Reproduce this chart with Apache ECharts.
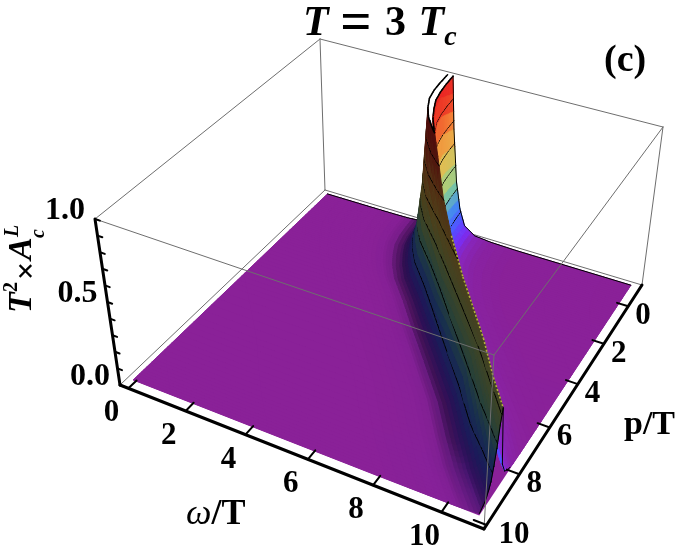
<!DOCTYPE html>
<html><head><meta charset="utf-8">
<style>html,body{margin:0;padding:0;background:#fff}#c{width:678px;height:551px}</style>
<script src="https://cdn.jsdelivr.net/npm/echarts@6/dist/echarts.min.js"></script>
</head><body><div id="c"></div>
<script>
// ---- values ----
var omegaTicks = [0, 2, 4, 6, 8, 10];
var pTicks = [0, 2, 4, 6, 8, 10];
var zTickLabels = ['0.0', '0.5', '1.0'];
var zMinorTicks = [0, .1, .2, .3, .4, .5, .6, .7, .8, .9, 1];
// surface rows: momentum of each row, ridge position on the frequency axis for that row
var pRows = [-1.03, -.5, 0, .5, 1, 1.5, 2.1, 3, 3.84, 4.86, 6.59, 7.76, 8.67, 9.3, 9.8];
var ridgeOmega = [4.47, 4.5, 4.55, 4.65, 4.85, 5.1, 5.5, 6.3, 7.0, 7.88, 9.35, 10.2, 10.9, 11.45, 11.9];
// columns: frequency distance from the ridge
var ridgeOffsets = [-14, -4, -3, -2.2, -1.7, -1.4, -1, -.7, -.45, -.25, -.1, 0, .07, .16, .31, .47, .66, 1.04, 1.6, 2.5, 7];
// T^2 x A values, one row per pRows entry (values above 1 are clipped by the plot range)
var heights = [
 [0,0,0,0,.001,.002,.008,.05,.2,.52,1.06,1.25,1.0,.66,.33,.16,.06,.015,.005,.001,0],
 [0,0,0,0,.001,.002,.008,.05,.2,.54,1.08,1.3,1.04,.69,.34,.17,.065,.016,.005,.001,0],
 [0,0,0,0,.001,.002,.008,.05,.2,.54,1.1,1.35,1.08,.72,.35,.18,.07,.016,.005,.001,0],
 [0,0,0,0,.001,.002,.008,.05,.2,.54,1.1,1.35,1.08,.72,.35,.18,.07,.016,.005,.001,0],
 [0,0,0,0,.001,.002,.008,.05,.2,.52,1.06,1.3,1.04,.69,.34,.17,.065,.016,.005,.001,0],
 [0,0,0,0,.001,.002,.008,.05,.2,.48,.96,1.2,.96,.64,.31,.16,.06,.014,.005,.001,0],
 [0,0,0,0,.001,.002,.008,.055,.2,.44,.8,1.02,.82,.54,.27,.13,.05,.012,.004,.001,0],
 [0,0,0,0,.001,.002,.008,.06,.2,.38,.6,.72,.58,.38,.19,.09,.036,.009,.003,.001,0],
 [0,0,0,0,.001,.003,.01,.07,.2,.35,.52,.62,.5,.33,.16,.08,.03,.008,.003,.001,0],
 [0,0,0,.001,.002,.004,.016,.085,.24,.38,.48,.54,.43,.29,.14,.07,.027,.006,.002,.001,0],
 [0,0,0,.001,.002,.005,.02,.1,.27,.39,.45,.48,.3,.16,.07,.03,.012,.003,.001,0,0],
 [0,0,0,.001,.002,.005,.022,.09,.2,.33,.42,.46,.2,.08,.03,.015,.006,.002,.001,0,0],
 [0,0,.001,.002,.003,.007,.02,.05,.12,.25,.4,.46,.2,.08,.03,.015,.006,.002,.001,0,0],
 [0,0,.001,.002,.003,.006,.016,.035,.09,.2,.34,.44,.2,.08,.03,.015,.006,.002,.001,0,0],
 [0,0,.001,.002,.003,.005,.012,.03,.075,.17,.3,.42,.2,.08,.03,.015,.006,.002,.001,0,0]
];
var meshLevels = [1/7, 2/7, 3/7, 4/7, 5/7, 6/7, 1];

// ---- view set-up: the box corners of the 3D frame ----
var OM = [-.3, 11.2], PP = [-1.2, 10.15], OM_SURF = [-.1, 10.9];
var floorQuad = [[325,190],[642,285],[484,529],[120,385]];
var topQuad   = [[320,39],[663,127],[494,355],[95,219]];
function homography(q){
  var dx1=q[1][0]-q[2][0],dx2=q[3][0]-q[2][0],sx=q[0][0]-q[1][0]+q[2][0]-q[3][0];
  var dy1=q[1][1]-q[2][1],dy2=q[3][1]-q[2][1],sy=q[0][1]-q[1][1]+q[2][1]-q[3][1];
  var det=dx1*dy2-dx2*dy1,g=(sx*dy2-dx2*sy)/det,h=(dx1*sy-sx*dy1)/det;
  return [q[1][0]-q[0][0]+g*q[1][0],q[3][0]-q[0][0]+h*q[3][0],q[0][0],
          q[1][1]-q[0][1]+g*q[1][1],q[3][1]-q[0][1]+h*q[3][1],q[0][1],g,h];
}
var HF=homography(floorQuad),HT=homography(topQuad);
function ap(H,u,v){var d=H[6]*u+H[7]*v+1;return [(H[0]*u+H[1]*v+H[2])/d,(H[3]*u+H[4]*v+H[5])/d];}
function U(w){return (w-OM[0])/(OM[1]-OM[0]);}
function V(p){return (p-PP[0])/(PP[1]-PP[0]);}
function proj(w,p,z){var a=ap(HF,U(w),V(p)),b=ap(HT,U(w),V(p));return [a[0]+(b[0]-a[0])*z,a[1]+(b[1]-a[1])*z];}

// ---- surface lookup ----
function rowAt(arr,r){var i=Math.min(Math.floor(r),arr.length-2),t=r-i;return arr[i]*(1-t)+arr[i+1]*t;}
function colAt(row,o){
  var O=ridgeOffsets,j=0;
  if(o<=O[0])return row[0]; if(o>=O[O.length-1])return row[O.length-1];
  while(j<O.length-2&&o>O[j+1])j++;
  return row[j]+(row[j+1]-row[j])*(o-O[j])/(O[j+1]-O[j]);
}
function zAt(r,o){
  var i=Math.min(Math.floor(r),heights.length-2),t=r-i;
  return colAt(heights[i],o)*(1-t)+colAt(heights[i+1],o)*t;
}
var ramp=[[0,138,33,152],[.04,112,40,215],[.1,70,70,235],[.2,60,120,210],[.3,100,170,150],[.42,160,180,100],[.55,200,165,70],[.7,215,125,50],[.85,210,60,35],[1,205,30,30]];
function color(z,f){
  z=Math.max(0,Math.min(1,z));var i=0;while(i<ramp.length-2&&z>ramp[i+1][0])i++;
  var a=ramp[i],b=ramp[i+1],t=(z-a[0])/(b[0]-a[0]),c=[];
  for(var k=1;k<4;k++)c.push(Math.min(255,Math.round((a[k]+(b[k]-a[k])*t)*f)));
  return 'rgb('+c.join(',')+')';
}

// ---- build cells ----
var RS=5,CS=3,rF=[],cF=[],i,j,k;
for(i=0;i<pRows.length-1;i++)for(k=0;k<RS;k++)rF.push(i+k/RS);rF.push(pRows.length-1);
for(j=0;j<ridgeOffsets.length-1;j++)for(k=0;k<CS;k++)cF.push(ridgeOffsets[j]+(ridgeOffsets[j+1]-ridgeOffsets[j])*k/CS);cF.push(ridgeOffsets[ridgeOffsets.length-1]);
var crestIdx=cF.indexOf(0);
function vert(r,o){
  var c=rowAt(ridgeOmega,r),w=Math.max(OM_SURF[0],Math.min(OM_SURF[1],c+o));
  return [w,rowAt(pRows,r),zAt(r,w-c)];
}
// slope across the ridge, over a wider stencil so the shading stays smooth
function slopeAt(r,j){
  var lo=j-2,hi=j+3;
  if(j<crestIdx)hi=Math.min(hi,crestIdx);else lo=Math.max(lo,crestIdx);
  lo=Math.max(lo,0);hi=Math.min(hi,cF.length-1);
  return (zAt(r,cF[hi])-zAt(r,cF[lo]))/(cF[hi]-cF[lo]);
}
var cells=[];
for(i=0;i<rF.length-1;i++)for(j=0;j<cF.length-1;j++){
  var a=vert(rF[i],cF[j]),b=vert(rF[i],cF[j+1]),c2=vert(rF[i+1],cF[j+1]),d=vert(rF[i+1],cF[j]);
  if(Math.abs(b[0]-a[0])<1e-6&&Math.abs(c2[0]-d[0])<1e-6)continue;
  var cu=(U(a[0])+U(b[0])+U(c2[0])+U(d[0]))/4,cv=(V(a[1])+V(d[1]))/2;
  var sl=(slopeAt(rF[i],j)+slopeAt(rF[i+1],j))/2;
  cells.push({q:[a,b,c2,d],depth:.355*cu+.67*cv,first:i===0,slope:sl});
}
cells.sort(function(x,y){return x.depth-y.depth;});
function clipTop(q){
  var out=[];
  for(var n=0;n<q.length;n++){
    var A=q[n],B=q[(n+1)%q.length],ia=A[2]<=1,ib=B[2]<=1;
    if(ia)out.push(A);
    if(ia!==ib){var t=(1-A[2])/(B[2]-A[2]);out.push([A[0]+(B[0]-A[0])*t,A[1]+(B[1]-A[1])*t,1]);}
  }
  return out;
}
function contourSegs(q,l){
  var pts=[];
  for(var n=0;n<4;n++){
    var A=q[n],B=q[(n+1)%4];
    if((A[2]<l)!==(B[2]<l)){var t=(l-A[2])/(B[2]-A[2]);pts.push([A[0]+(B[0]-A[0])*t,A[1]+(B[1]-A[1])*t,l]);}
  }
  var s=[];if(pts.length>=2)s.push([pts[0],pts[1]]);if(pts.length===4)s.push([pts[2],pts[3]]);
  return s;
}
function P(api,v){return api.coord(proj(v[0],v[1],v[2]));}
function lineEl(A,B,col,w,dash){return {type:'line',shape:{x1:A[0],y1:A[1],x2:B[0],y2:B[1]},style:{stroke:col,lineWidth:w,lineDash:dash||null,lineCap:dash?'butt':'round'},silent:true};}
// signed screen area, used to leave out the reverse side of the sheet
function area(pts){var s=0;for(var n=0;n<pts.length;n++){var A=pts[n],B=pts[(n+1)%pts.length];s+=A[0]*B[1]-B[0]*A[1];}return s/2;}

function renderCell(params,api){
  var cell=cells[api.value(0)],q=cell.q,poly=clipTop(q),kids=[];
  var facing=area(q.map(function(v){return P(api,v);}))>0;
  var zAvg=(q[0][2]+q[1][2]+q[2][2]+q[3][2])/4;
  var culled=!facing&&zAvg>.12;
  if(poly.length>=3&&!culled){
    var zs=0;poly.forEach(function(v){zs+=v[2];});zs/=poly.length;
    var s=cell.slope,f;
    if(s>=0)f=1-.62*(1-Math.exp(-s/.06));else f=1+.14*(1-Math.exp(s/.1));
    var col=color(zs,f);
    kids.push({type:'polygon',shape:{points:poly.map(function(v){return P(api,v);})},style:{fill:col,stroke:col,lineWidth:1},silent:true});
  }
  meshLevels.forEach(function(l){
    if(culled&&l!==1)return;
    contourSegs(q,l).forEach(function(sg){kids.push(lineEl(P(api,sg[0]),P(api,sg[1]),'#000',l===1?1.5:1));});
  });
  if(cell.first&&q[0][2]<=1&&q[1][2]<=1)kids.push(lineEl(P(api,q[0]),P(api,q[1]),'#000',1));
  return {type:'group',children:kids};
}

// ---- frame ----
var w0=OM[0],w1=OM[1],p0=PP[0],p1=PP[1];
var backEdges=[[[w0,p1,0],[w0,p0,0]],[[w0,p0,0],[w1,p0,0]],[[w0,p0,0],[w0,p0,1]]];
var frontEdges=[[[w0,p1,1],[w0,p0,1]],[[w0,p0,1],[w1,p0,1]],[[w1,p0,1],[w1,p1,1]],[[w1,p1,1],[w0,p1,1]],[[w1,p0,0],[w1,p0,1]],[[w1,p1,0],[w1,p1,1]]];
var axes=[[[w0,p1,0],[w1,p1,0]],[[w1,p1,0],[w1,p0,0]],[[w0,p1,0],[w0,p1,1]]];
function segSeries(name,segs,col,w,z,dash){
  return {type:'custom',name:name,coordinateSystem:'cartesian2d',silent:true,clip:false,animation:false,z:z,progressive:0,
    data:segs.map(function(_,n){return [n];}),
    renderItem:function(params,api){var s=segs[api.value(0)];return lineEl(P(api,s[0]),P(api,s[1]),col,w,dash);}};
}
var tickSegs=[];
omegaTicks.forEach(function(t){tickSegs.push([[t,p1,0],[t,p1-.38,0]]);});
pTicks.forEach(function(t){tickSegs.push([[w1,t,0],[w1-.36,t,0]]);});
zMinorTicks.forEach(function(t){tickSegs.push([[w0,p1,t],[w0+.16,p1,t]]);});
// silhouette of the ω-end of the surface and the ridge crest
var edgeSegs=[],crestSegs=[];
for(i=rF.length-1;i>0;i--){
  if(rowAt(pRows,rF[i])<8.0)break;
  edgeSegs.push([vert(rF[i],14),vert(rF[i-1],14)]);
}
for(i=0;i<pRows.length-1;i++){
  if(pRows[i]>=3.84&&pRows[i]<8.67){
    crestSegs.push([[ridgeOmega[i],pRows[i],heights[i][11]],[ridgeOmega[i+1],pRows[i+1],heights[i+1][11]]]);
  }
}

var FONT='Liberation Serif';
var labelData=[];
omegaTicks.forEach(function(t){labelData.push({s:String(t),at:[t,p1,0],dx:-17,dy:25,al:'center',fs:31});});
pTicks.forEach(function(t){labelData.push({s:String(t),at:[w1,t,0],dx:t===10?12:7,dy:10,al:'left',fs:31});});
zTickLabels.forEach(function(t){labelData.push({s:t,at:[w0,p1,parseFloat(t)],dx:-10,dy:-8,al:'right',fs:32});});
function gt(x,y,text,size,italic,bold){return {type:'text',x:x,y:y,style:{text:text,fontFamily:FONT,fontSize:size,fontStyle:italic?'italic':'normal',fontWeight:bold?'bold':'normal',fill:'#000'}};}

var option={
  animation:false,backgroundColor:'#fff',
  title:{text:'{i|T} {e|=} {n|3} {i|T}{c|c}',left:303,top:-3,padding:0,
    textStyle:{fontFamily:FONT,fontWeight:'bold',fontSize:42,color:'#000',
      rich:{i:{fontFamily:FONT,fontStyle:'italic',fontWeight:'bold',fontSize:42},
            n:{fontFamily:FONT,fontWeight:'bold',fontSize:42,padding:[0,2,0,2]},
            e:{fontFamily:FONT,fontWeight:'bold',fontSize:55,padding:[0,1,0,1]},
            c:{fontFamily:FONT,fontStyle:'italic',fontWeight:'bold',fontSize:28,verticalAlign:'bottom',padding:[16,0,0,0]}}}},
  grid:{left:0,right:0,top:0,bottom:0},
  xAxis:{type:'value',min:0,max:678,show:false},
  yAxis:{type:'value',min:0,max:551,inverse:true,show:false},
  graphic:[
    gt(604,42,'(c)',38,false,true),
    {type:'text',x:186,y:497,style:{text:'{i|ω}{b|/T}',rich:{i:{fontFamily:FONT,fontStyle:'italic',fontSize:36,fill:'#000'},b:{fontFamily:FONT,fontWeight:'bold',fontSize:36,fill:'#000'}}}},
    gt(624,408,'p/T',34,false,true),
    {type:'group',x:36,y:313,rotation:Math.PI/2,silent:true,children:[
      gt(0,-31,'T',34,true,true),
      gt(21,-34,'2',20,false,true),
      gt(33,-24,'×',32,false,true),
      gt(53,-31,'A',34,true,true),
      gt(75,-7,'c',20,true,true),
      gt(76,-33,'L',20,true,true)
    ]}
  ],
  series:[
    segSeries('frame-back',backEdges,'#6e6e6e',1,1),
    {type:'custom',name:'floor-base',coordinateSystem:'cartesian2d',silent:true,clip:false,animation:false,z:1,progressive:0,data:[[0]],
      renderItem:function(params,api){
        var pts=[[OM_SURF[0],pRows[0],0],[OM_SURF[1],pRows[0],0],[OM_SURF[1],pRows[pRows.length-1],0],[OM_SURF[0],pRows[pRows.length-1],0]].map(function(v){return P(api,v);});
        return {type:'polygon',shape:{points:pts},style:{fill:'rgb(138,33,152)'},silent:true};}},
    {type:'custom',name:'surface',coordinateSystem:'cartesian2d',silent:true,clip:false,animation:false,z:2,progressive:0,
      data:cells.map(function(_,n){return [n];}),renderItem:renderCell},
    segSeries('crest',crestSegs,'#b3ae3c',1.6,3,[2,2]),
    segSeries('surface-end',edgeSegs,'#000',1,3),
    segSeries('frame-front',frontEdges,'#6e6e6e',1,4),
    segSeries('axes',axes,'#000',3,5),
    segSeries('ticks',tickSegs,'#000',2,5),
    {type:'custom',name:'tick-labels',coordinateSystem:'cartesian2d',silent:true,clip:false,animation:false,z:6,progressive:0,
      data:labelData.map(function(_,n){return [n];}),
      renderItem:function(params,api){
        var L=labelData[api.value(0)],c=P(api,L.at);
        return {type:'text',x:c[0]+L.dx,y:c[1]+L.dy,silent:true,style:{text:L.s,fontFamily:FONT,fontSize:L.fs,fontWeight:'bold',fill:'#000',textAlign:L.al,textVerticalAlign:'middle'}};}}
  ]
};
var chart=echarts.init(document.getElementById('c'),null,{renderer:'canvas',width:678,height:551});
chart.setOption(option);
</script></body></html>
